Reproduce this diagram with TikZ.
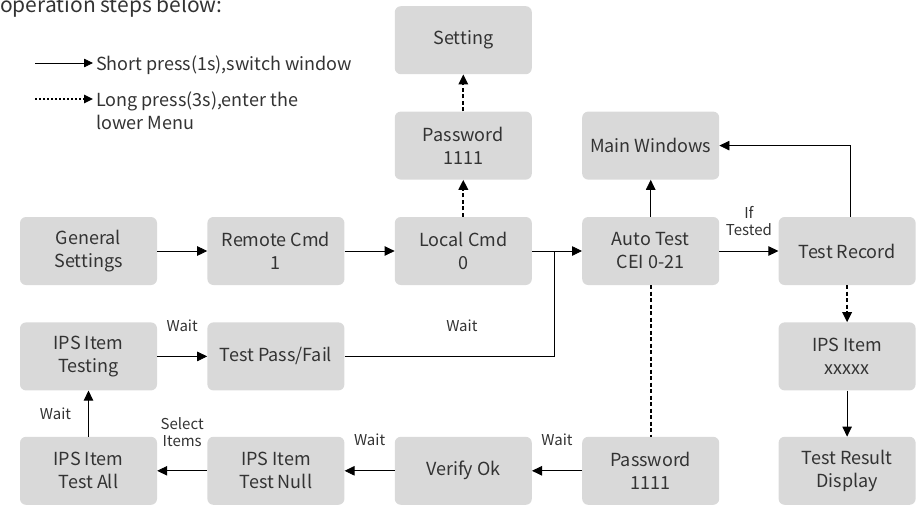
\documentclass[tikz,border=0pt]{standalone}
\usepackage{fontspec}
\setmainfont{Noto Sans CJK SC}
\usepackage{xcolor}
\usepackage{tikz}
\usetikzlibrary{arrows.meta,positioning,calc}
\definecolor{ink}{HTML}{333333}
\definecolor{boxgray}{HTML}{D9D9D9}

\begin{document}
\begin{tikzpicture}[x=1pt,y=1pt,font=\fontsize{18}{23}\selectfont,text=ink,>={Triangle[length=10pt,width=9.5pt]},node distance=37pt and 50pt]
\tikzset{box/.style={fill=boxgray,rounded corners=6pt,minimum width=137pt,minimum height=68pt,inner sep=0pt,align=center}, arr/.style={->,draw=black,line width=0.8pt}, dasharr/.style={arr,line width=1.8pt,dash pattern=on 4pt off 2.5pt}, lbl/.style={font=\fontsize{15}{17}\selectfont,inner sep=0pt,align=center,text depth=0pt}, legtxt/.style={anchor=base west,inner sep=0pt}}
\useasboundingbox (0,0) rectangle (920,-504);
% legend
\node[legtxt,font=\fontsize{21}{25}\selectfont] (intro) at (0,-12) {operation steps below:};
\coordinate (k1a) at (35,-63); \coordinate (k1b) at (93,-63);
\coordinate (k2a) at (35,-99); \coordinate (k2b) at (93,-99);
\draw[arr,>={Triangle[length=9pt,width=8.5pt]}] (k1a) -- (k1b);
\draw[arr,line width=1.3pt,dash pattern=on 2pt off 2pt,>={Triangle[length=9pt,width=8.5pt]}] (k2a) -- (k2b);
\node[legtxt,xshift=3pt,yshift=-7pt] (k1t) at (k1b) {Short press(1s),switch window};
\node[legtxt,xshift=3pt,yshift=-7pt] (k2t) at (k2b) {Long press(3s),enter the};
\node[legtxt,yshift=-23pt] (k3t) at (k2t.base west) {lower Menu};
% main row
\node[box] (gen) at (88.5,-251) {General\\Settings};
\node[box,right=of gen] (remote) {Remote Cmd\\1};
\node[box,right=of remote] (local) {Local Cmd\\0};
\node[box,right=of local] (auto) {Auto Test\\CEI 0-21};
\node[box,right=59pt of auto] (record) {Test Record};
% upper rows
\node[box,above=of local] (pwtop) {Password\\1111};
\node[box,above=of pwtop] (setting) {Setting};
\node[box,above=of auto] (mainwin) {Main Windows};
% lower rows
\node[box,below=of gen] (testing) {IPS Item\\Testing};
\node[box,right=of testing] (passfail) {Test Pass/Fail};
\node[box,below=46pt of testing] (testall) {IPS Item\\Test All};
\node[box,right=of testall] (testnull) {IPS Item\\Test Null};
\node[box,right=of testnull] (verify) {Verify Ok};
\node[box,right=of verify] (pwbot) {Password\\1111};
\node[box,below=of record] (ipsx) {IPS Item\\xxxxx};
\node[box,below=46pt of ipsx] (result) {Test Result\\Display};
\coordinate (join) at ($(local.east)!0.44!(auto.west)$);
% connectors
\draw[arr] (gen) -- (remote);
\draw[arr] (remote) -- (local);
\draw[arr] (local) -- (auto);
\draw[arr] (auto) -- (record) node[lbl,midway,above=15pt] {If\\Tested};
\draw[dasharr] (local) -- (pwtop);
\draw[dasharr] (pwtop) -- (setting);
\draw[arr] (auto) -- (mainwin);
\draw[arr] ([xshift=3pt]record.north) |- (mainwin.east);
\draw[dasharr] (record) -- (ipsx);
\draw[arr] (ipsx) -- (result);
\draw[dasharr,-] (auto) -- (pwbot);
\draw[arr] (pwbot) -- (verify) node[lbl,midway,above=25pt] {Wait};
\draw[arr] (verify) -- (testnull) node[lbl,midway,above=25pt] {Wait};
\draw[arr] (testnull) -- (testall) node[lbl,midway,above=24pt] {Select\\Items};
\draw[arr] (testall) -- (testing) node[lbl,midway,left=17pt] {Wait};
\draw[arr] (testing) -- (passfail) node[lbl,midway,above=25pt] {Wait};
\draw[line width=0.8pt] (passfail.east) -| (join) node[lbl,pos=0.28,above=25pt] {Wait};
\end{tikzpicture}
\end{document}
